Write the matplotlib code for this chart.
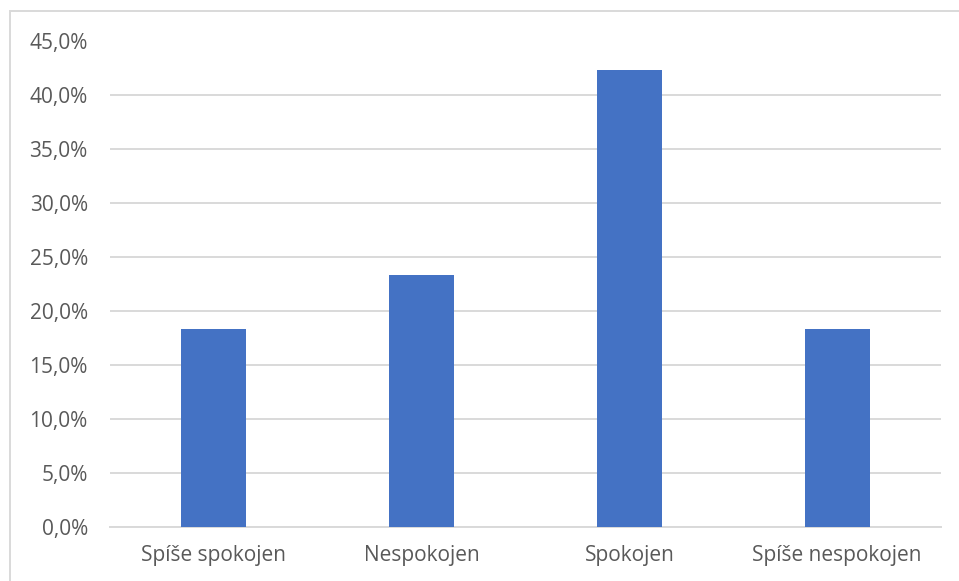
import matplotlib
matplotlib.use("Agg")
import matplotlib.pyplot as plt
from matplotlib.patches import Rectangle
from matplotlib.ticker import FuncFormatter, MultipleLocator

categories = ["Spíše spokojen", "Nespokojen", "Spokojen", "Spíše nespokojen"]
values = [18.3, 23.3, 42.3, 18.3]

plt.rcParams['font.family'] = ['Open Sans', 'DejaVu Sans']

W, H = 959, 581
fig = plt.figure(figsize=(W / 100, H / 100), dpi=100)
fig.patch.set_facecolor("white")

# outer chart border (extends beyond right/bottom edges)
fig.patches.append(Rectangle((10 / W, -0.1), 1.2, 1 - 11 / H + 0.1,
                             transform=fig.transFigure, fill=False,
                             edgecolor="#D9D9D9", linewidth=1.4))

ax = fig.add_axes([110 / W, 1 - 526.5 / H, (941 - 110) / W, (526.5 - 40.5) / H])
x = range(len(categories))
ax.bar(x, values, width=0.313, color="#4472C4", zorder=3)
ax.set_xlim(-0.5, len(categories) - 0.5)
ax.set_ylim(0, 45)
ax.yaxis.set_major_locator(MultipleLocator(5))
ax.yaxis.set_major_formatter(FuncFormatter(lambda v, p: f"{v:.1f}%".replace(".", ",")))
ax.set_xticks(list(x))
ax.set_xticklabels(categories)
ax.grid(axis="y", color="#D9D9D9", linewidth=1.4, zorder=0)
for s in ["top", "right", "left"]:
    ax.spines[s].set_visible(False)
ax.spines["bottom"].set_color("#D9D9D9")
ax.spines["bottom"].set_linewidth(1.4)
ax.spines["bottom"].set_zorder(1)
ax.tick_params(axis="both", length=0, labelsize=15, labelcolor="#595959")
ax.tick_params(axis="y", pad=16)
ax.tick_params(axis="x", pad=13)

fig.savefig("out.png", dpi=100, facecolor="white")
